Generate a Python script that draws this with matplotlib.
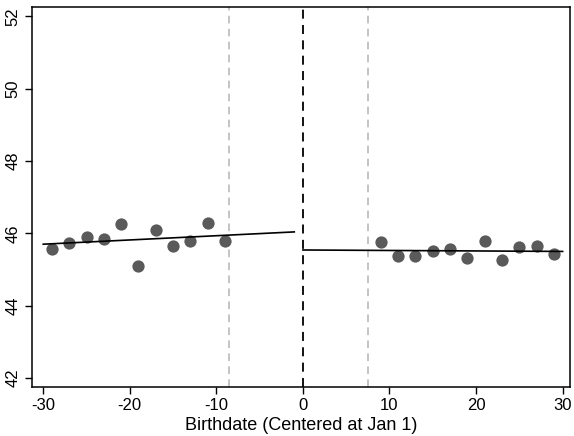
import matplotlib
matplotlib.use("Agg")
import matplotlib.pyplot as plt

plt.rcParams['font.family'] = ['Liberation Sans', 'DejaVu Sans']

# Data
left_x = [-29, -27, -25, -23, -21, -19, -17, -15, -13, -11, -9]
left_y = [45.56, 45.72, 45.89, 45.84, 46.27, 45.11, 46.10, 45.64, 45.79, 46.28, 45.78]
right_x = [9, 11, 13, 15, 17, 19, 21, 23, 25, 27, 29]
right_y = [45.75, 45.36, 45.36, 45.52, 45.57, 45.32, 45.78, 45.26, 45.62, 45.66, 45.42]
fit_left_x = [-30, -1]
fit_left_y = [45.70, 46.04]
fit_right_x = [0, 30]
fit_right_y = [45.54, 45.50]
cutoff = 0
band = [-8.5, 7.5]
xticks = [-30, -20, -10, 0, 10, 20, 30]
yticks = [42, 44, 46, 48, 50, 52]

fig = plt.figure(figsize=(5.74, 4.36), dpi=100)
ax = fig.add_axes([0.0557, 0.1124, 0.9373, 0.8706])

ax.axvline(cutoff, color='black', linestyle=(0, (5, 3.5)), linewidth=1.3, zorder=1)
for b in band:
    ax.axvline(b, color='#b4b4b4', linestyle=(0, (5, 3.5)), linewidth=1.1, zorder=1)

ax.scatter(left_x, left_y, s=78, color='#5a5a5a', zorder=3, linewidths=0)
ax.scatter(right_x, right_y, s=78, color='#5a5a5a', zorder=3, linewidths=0)
ax.plot(fit_left_x, fit_left_y, color='black', linewidth=1.2, zorder=4)
ax.plot(fit_right_x, fit_right_y, color='black', linewidth=1.2, zorder=4)

ax.set_xlim(-31.3, 30.85)
ax.set_ylim(41.75, 52.25)
ax.set_xticks(xticks)
ax.set_yticks(yticks)
ax.set_xticklabels([str(t) for t in xticks], fontsize=12)
ax.set_yticklabels([str(t) for t in yticks], fontsize=12, rotation=90, va='center')
ax.tick_params(direction='out', length=5, width=1, colors='black', pad=3)
for s in ax.spines.values():
    s.set_linewidth(1.1)
ax.set_xlabel('Birthdate (Centered at Jan 1)', fontsize=13, labelpad=3)

fig.savefig('out.png', dpi=100)
